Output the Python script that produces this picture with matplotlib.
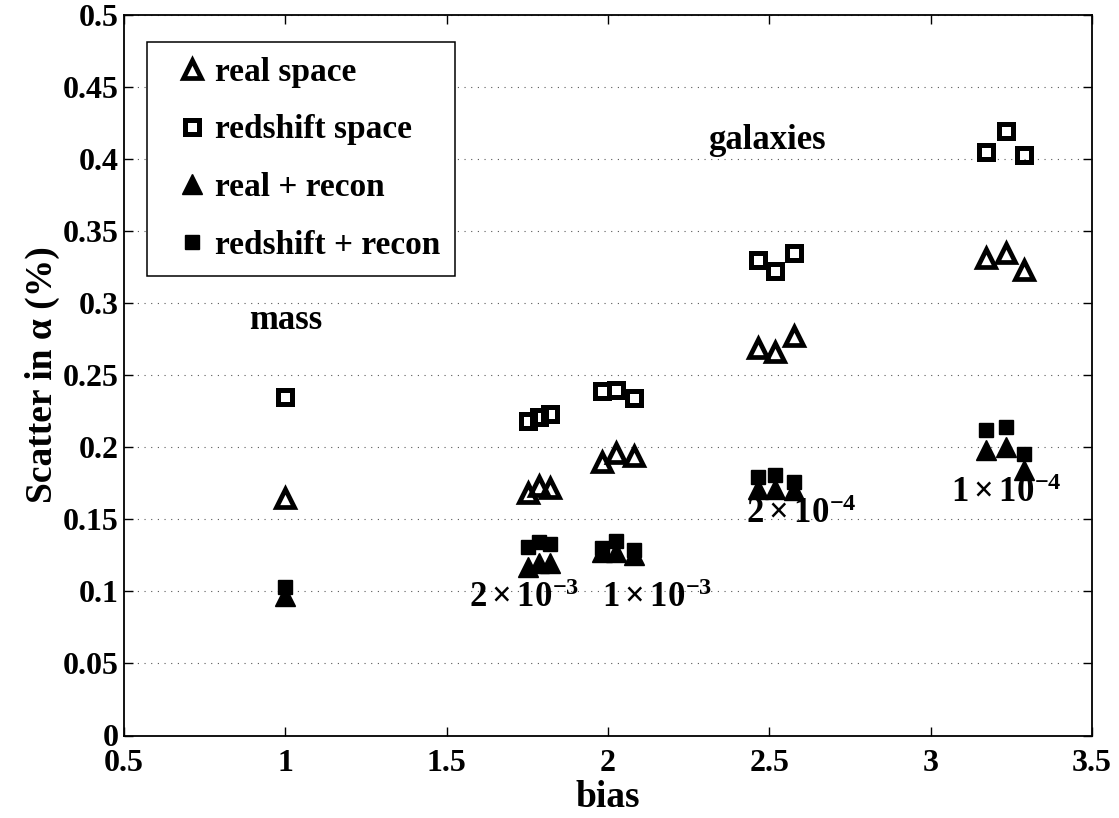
import matplotlib

matplotlib.use("Agg")
import matplotlib.pyplot as plt
import numpy as np

# bias of each sample: mass, then the four galaxy number densities
bias = [1.0,
        1.753, 1.786, 1.821,
        1.980, 2.026, 2.082,
        2.465, 2.517, 2.576,
        3.172, 3.232, 3.289]

real_space = [0.165,
              0.168, 0.173, 0.172,
              0.190, 0.196, 0.194,
              0.269, 0.266, 0.277,
              0.331, 0.335, 0.323]
redshift_space = [0.235,
                  0.218, 0.221, 0.223,
                  0.239, 0.240, 0.234,
                  0.330, 0.322, 0.335,
                  0.405, 0.419, 0.403]
real_recon = [0.097,
              0.117, 0.120, 0.120,
              0.127, 0.127, 0.125,
              0.171, 0.171, 0.170,
              0.198, 0.200, 0.184]
redshift_recon = [0.103,
                  0.131, 0.134, 0.133,
                  0.130, 0.135, 0.129,
                  0.179, 0.181, 0.176,
                  0.212, 0.214, 0.195]

series_labels = ["real space", "redshift space", "real + recon", "redshift + recon"]

# sample labels: (text, bias, scatter)
sample_labels = [
    ("mass", 1.0, 0.288),
    ("galaxies", 2.493, 0.413),
    (r"$\mathbf{2\times10^{-3}}$", 1.74, 0.095),
    (r"$\mathbf{1\times10^{-3}}$", 2.151, 0.095),
    (r"$\mathbf{2\times10^{-4}}$", 2.60, 0.153),
    (r"$\mathbf{1\times10^{-4}}$", 3.236, 0.168),
]

xticks = [0.5, 1.0, 1.5, 2.0, 2.5, 3.0, 3.5]
yticks = [0.0, 0.05, 0.1, 0.15, 0.2, 0.25, 0.3, 0.35, 0.4, 0.45, 0.5]

plt.rcParams["font.family"] = ["Liberation Serif", "DejaVu Serif"]
plt.rcParams["font.weight"] = "bold"
plt.rcParams["mathtext.fontset"] = "custom"
plt.rcParams["mathtext.rm"] = "Liberation Serif:bold"
plt.rcParams["mathtext.bf"] = "Liberation Serif:bold"
plt.rcParams["mathtext.it"] = "Liberation Serif:bold:italic"
plt.rcParams["axes.linewidth"] = 1.3

fig = plt.figure(figsize=(11.19, 8.18), dpi=100)
ax = fig.add_axes([124 / 1119, 82.5 / 818, 968 / 1119, 720.8 / 818])

open_kw = dict(linestyle="none", color="black", markerfacecolor="none")
filled_kw = dict(linestyle="none", color="black", markerfacecolor="black")
ax.plot(bias, real_space, marker="^", markersize=13.5, markeredgewidth=3.4,
        label=series_labels[0], **open_kw)
ax.plot(bias, redshift_space, marker="s", markersize=10.5, markeredgewidth=3.6,
        label=series_labels[1], **open_kw)
ax.plot(bias, real_recon, marker="^", markersize=14, markeredgewidth=1.0,
        label=series_labels[2], **filled_kw)
ax.plot(bias, redshift_recon, marker="s", markersize=10.5, markeredgewidth=1.0,
        label=series_labels[3], **filled_kw)

for text, x, y in sample_labels:
    ax.text(x, y, text, ha="center", va="center", fontsize=25, fontweight="bold")

ax.set_xlim(0.5, 3.5)
ax.set_ylim(0, 0.5)
ax.set_xticks(xticks)
ax.set_xticklabels([f"{t:g}" for t in xticks])
ax.set_yticks(yticks)
ax.set_yticklabels([f"{t:g}" for t in yticks])
ax.tick_params(direction="in", length=6.5, width=1.0, top=True, right=True,
               labelsize=23)
ax.tick_params(axis="x", pad=10)
ax.tick_params(axis="y", pad=4)
ax.yaxis.grid(True, linestyle=(0, (1, 5)), color="0.35", linewidth=0.8)
ax.set_axisbelow(True)

ax.set_xlabel("bias", fontsize=27, fontweight="bold", labelpad=1)
ax.set_ylabel(r"Scatter in α (%)", fontsize=27, fontweight="bold", labelpad=2)

legend = ax.legend(loc="upper left", bbox_to_anchor=(0.0235, 0.9626),
                   borderaxespad=0, numpoints=1, fontsize=24, fancybox=False,
                   framealpha=1, edgecolor="black", borderpad=0.45,
                   handlelength=1.8, handletextpad=-0.2, labelspacing=0.8)
legend.get_frame().set_linewidth(1.1)

fig.savefig("out.png", dpi=100)
